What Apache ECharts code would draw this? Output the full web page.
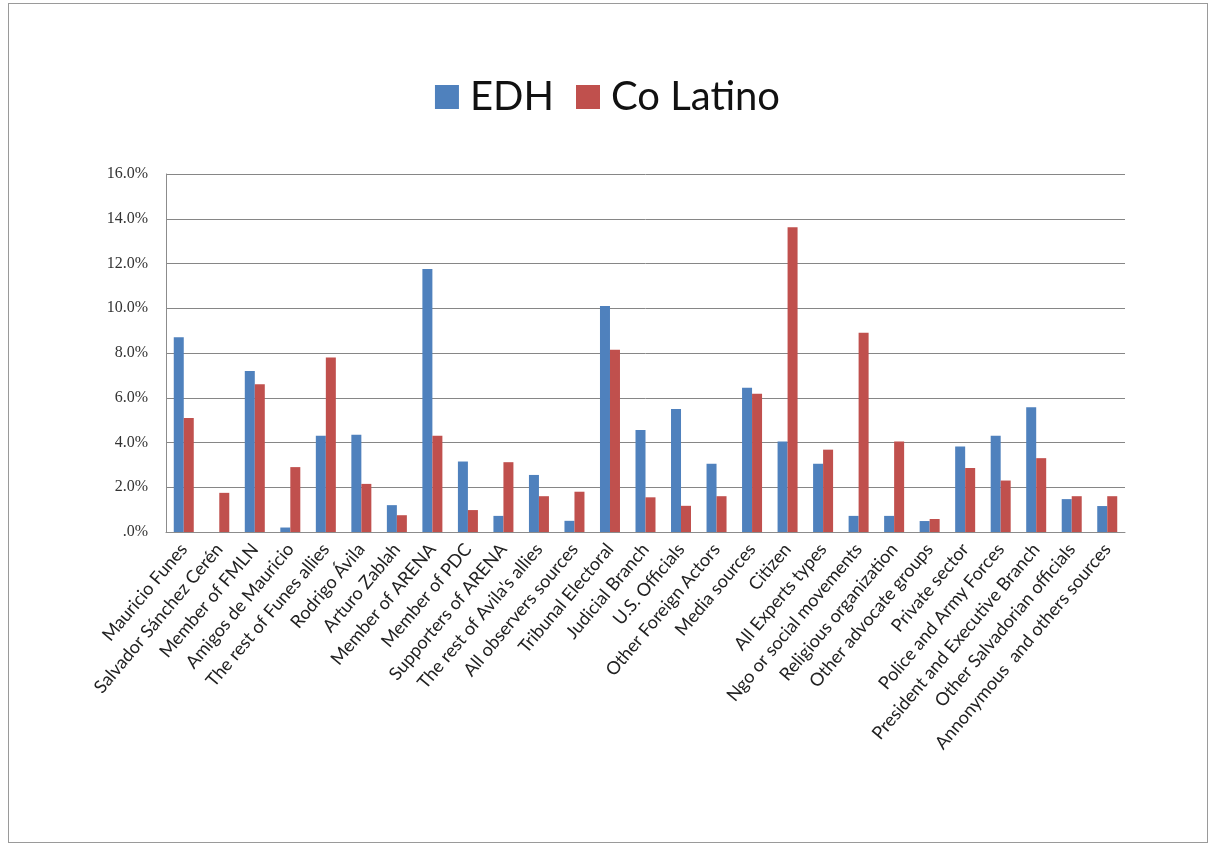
<!DOCTYPE html>
<html>
<head>
<meta charset="utf-8">
<script src="https://cdn.jsdelivr.net/npm/echarts@6/dist/echarts.min.js"></script>
<style>
  html, body { margin: 0; padding: 0; background: #fff; }
  #frame { position: absolute; left: 8px; top: 3px; width: 1198px; height: 838px; border: 1px solid #9a9a9a; }
  #main { width: 1215px; height: 845px; position: absolute; left: 0; top: 0; }
</style>
</head>
<body>
<div id="frame"></div>
<div id="main"></div>
<script>
// 类别
var categories = [
    'Mauricio Funes', 'Salvador Sánchez Cerén', 'Member of FMLN', 'Amigos de Mauricio',
    'The rest of Funes allies', 'Rodrigo Ávila', 'Arturo Zablah', 'Member of ARENA',
    'Member of PDC', 'Supporters of ARENA', 'The rest of Avila\'s allies', 'All observers sources',
    'Tribunal Electoral', 'Judicial Branch', 'U.S. Officials', 'Other Foreign Actors',
    'Media sources', 'Citizen', 'All Experts types', 'Ngo or social movements',
    'Religious organization', 'Other advocate groups', 'Private sector', 'Police and Army Forces',
    'President and Executive Branch', 'Other Salvadorian officials', 'Annonymous  and others sources'
];
// EDH (%)
var edh = [8.7, 0, 7.2, 0.2, 4.3, 4.35, 1.2, 11.75, 3.15, 0.72, 2.55, 0.5,
    10.1, 4.56, 5.5, 3.05, 6.45, 4.05, 3.05, 0.72, 0.72, 0.49, 3.82, 4.3, 5.57, 1.47, 1.16];
// Co Latino (%)
var coLatino = [5.1, 1.75, 6.6, 2.9, 7.8, 2.15, 0.75, 4.3, 0.98, 3.12, 1.6, 1.8,
    8.15, 1.55, 1.17, 1.6, 6.18, 13.62, 3.68, 8.9, 4.05, 0.58, 2.86, 2.3, 3.3, 1.6, 1.6];
// y 轴刻度
var yMin = 0, yMax = 16, yStep = 2;

var chart = echarts.init(document.getElementById('main'));
chart.setOption({
    backgroundColor: 'transparent',
    animation: false,
    legend: {
        top: 72,
        left: 'center',
        itemWidth: 24,
        itemHeight: 24,
        itemGap: 22,
        icon: 'rect',
        textStyle: {
            fontFamily: 'Lato',
            fontSize: 40,
            color: '#111',
            padding: [0, 0, 0, 6]
        },
        data: ['EDH', 'Co Latino']
    },
    grid: {
        left: 166,
        right: 90,
        top: 174,
        bottom: 313
    },
    xAxis: {
        type: 'category',
        data: categories,
        axisLine: { lineStyle: { color: '#8c8c8c' } },
        axisTick: { show: false },
        axisLabel: {
            interval: 0,
            rotate: 50,
            margin: 14,
            fontFamily: 'Lato',
            fontSize: 18,
            color: '#222'
        }
    },
    yAxis: {
        type: 'value',
        min: yMin,
        max: yMax,
        interval: yStep,
        axisLine: { show: true, lineStyle: { color: '#8c8c8c' } },
        axisTick: { show: false },
        splitLine: { lineStyle: { color: '#868686', width: 1 } },
        axisLabel: {
            margin: 18,
            fontFamily: 'Liberation Serif',
            fontSize: 16,
            color: '#333',
            formatter: function (v) {
                return v === 0 ? '.0%' : v.toFixed(1) + '%';
            }
        }
    },
    series: [{
            name: 'EDH',
            type: 'bar',
            barWidth: 10,
            barGap: '0%',
            itemStyle: { color: '#4F81BD' },
            data: edh
        },
        {
            name: 'Co Latino',
            type: 'bar',
            barWidth: 10,
            itemStyle: { color: '#C0504D' },
            data: coLatino
        }
    ]
});
</script>
</body>
</html>
